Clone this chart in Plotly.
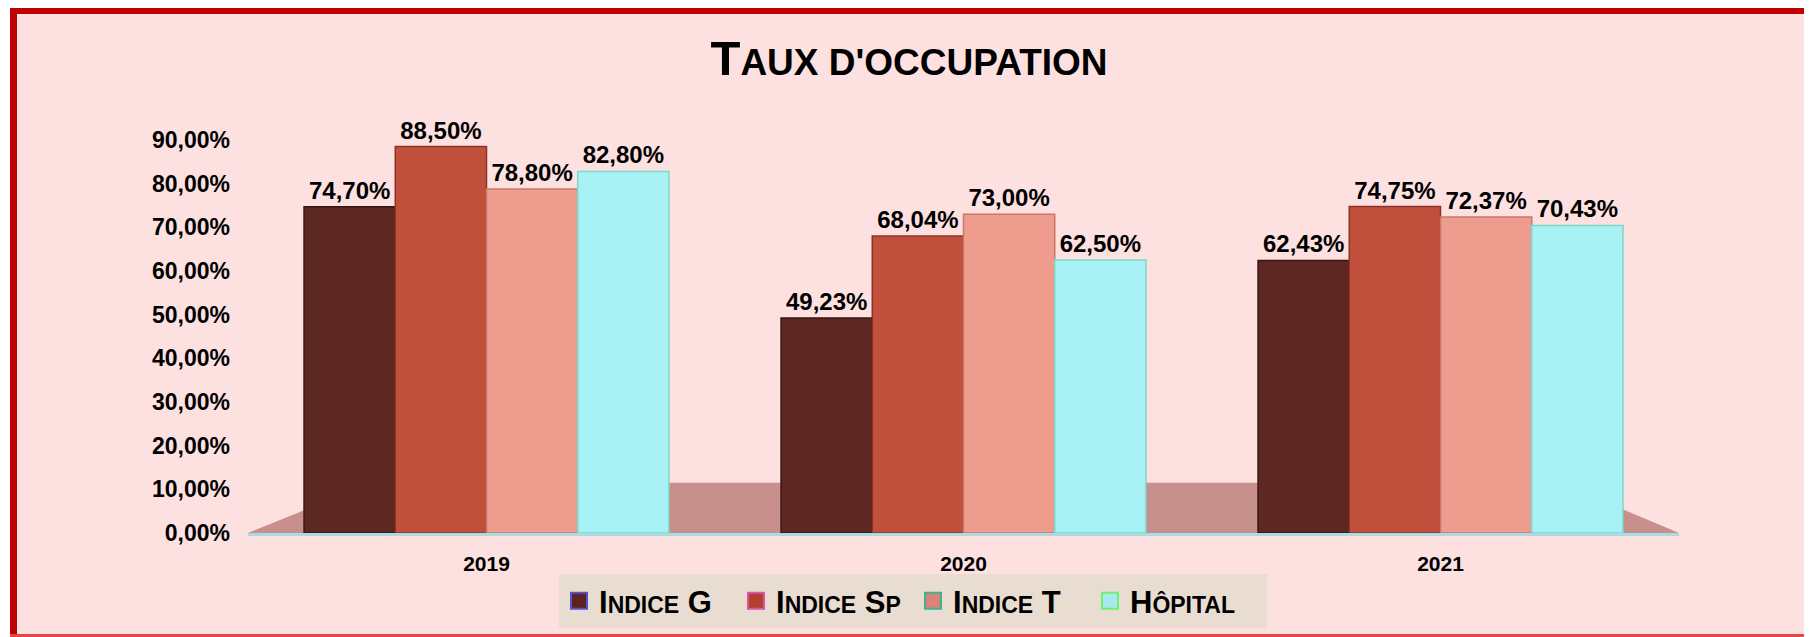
import plotly.graph_objects as go

years = ["2019", "2020", "2021"]
series_names = ["Indice G", "Indice Sp", "Indice T", "Hôpital"]
legend_labels = [
    "I<span style='font-size:23px'>NDICE</span> G",
    "I<span style='font-size:23px'>NDICE</span> S<span style='font-size:23px'>P</span>",
    "I<span style='font-size:23px'>NDICE</span> T",
    "H<span style='font-size:23px'>ÔPITAL</span>",
]
indice_g = [0.7470, 0.4923, 0.6243]
indice_sp = [0.8850, 0.6804, 0.7475]
indice_t = [0.7880, 0.7300, 0.7237]
hopital = [0.8280, 0.6250, 0.7043]
y_ticks = [0.0, 0.1, 0.2, 0.3, 0.4, 0.5, 0.6, 0.7, 0.8, 0.9]

fills = ["#5E2822", "#C0503C", "#EE9C8E", "#A8F2F6"]
edges = ["#3A1412", "#8E3226", "#C8786C", "#7CD8C8"]
legend_fills = ["#5A2420", "#B0402F", "#D98476", "#A8E8F0"]
legend_edges = ["#5B4FC8", "#E050A8", "#40B090", "#70F070"]

FONT = "Liberation Sans, Arial, sans-serif"

# page is drawn with the browser's 8px body margin, so the figure is 8px smaller
W, H = 1804, 629
ML, MR, MT, MB = 240, 133, 132, 104
PW, PH = W - ML - MR, H - MT - MB


def py(yfig):
    """figure pixel row -> paper y"""
    return (PH + MT - yfig) / PH


def px(xfig):
    return (xfig - ML) / PW


fig = go.Figure()
all_vals = [indice_g, indice_sp, indice_t, hopital]
for i, vals in enumerate(all_vals):
    fig.add_trace(go.Bar(
        x=years, y=vals, name=series_names[i], showlegend=False,
        marker=dict(color=fills[i], line=dict(color=edges[i], width=1.5)),
        texttemplate="%{y:.2%}", textposition="outside",
        textfont=dict(family=FONT, size=24, color="black", weight="bold"),
        cliponaxis=False,
    ))
for i in range(4):
    fig.add_trace(go.Scatter(
        x=[None], y=[None], mode="markers", name=legend_labels[i],
        marker=dict(symbol="square", size=16, color=legend_fills[i],
                    line=dict(color=legend_edges[i], width=2)),
    ))

RED = "#C00000"
shapes = [
    # outer frame background
    dict(type="rect", xref="paper", yref="paper",
         x0=px(2), x1=px(1804), y0=py(629), y1=py(0),
         fillcolor="#FDE0E0", line=dict(width=0), layer="below"),
    # frame sides
    dict(type="line", xref="paper", yref="paper", x0=px(5.5), x1=px(5.5),
         y0=py(629), y1=py(0), line=dict(color=RED, width=7), layer="below"),
    dict(type="line", xref="paper", yref="paper", x0=px(2), x1=px(1804),
         y0=py(3), y1=py(3), line=dict(color=RED, width=6), layer="below"),
    dict(type="line", xref="paper", yref="paper", x0=px(1802), x1=px(1802),
         y0=py(629), y1=py(0), line=dict(color=RED, width=4), layer="below"),
    dict(type="line", xref="paper", yref="paper", x0=px(2), x1=px(1804),
         y0=py(627.5), y1=py(627.5), line=dict(color="#E04848", width=3), layer="below"),
    # 3D floor
    dict(type="path", xref="x", yref="y",
         path="M -0.5,0 L 2.5,0 L 2.25,0.115 L -0.24,0.115 Z",
         fillcolor="#C8908C", line=dict(width=0), layer="below"),
]

fig.update_layout(
    width=W, height=H,
    margin=dict(l=ML, r=MR, t=MT, b=MB, autoexpand=False),
    paper_bgcolor="white", plot_bgcolor="rgba(0,0,0,0)",
    separators=", ",
    barmode="group", bargap=0.235, bargroupgap=0,
    shapes=shapes,
    title=dict(
        text="<b>T<span style='font-size:37px'>AUX D'OCCUPATION</span></b>",
        x=901 / W, xanchor="center", y=1 - 50 / H, yanchor="middle",
        font=dict(family=FONT, size=49, color="black"),
    ),
    xaxis=dict(
        type="category", range=[-0.5, 2.5], showgrid=False,
        showline=True, linecolor="#A8DCE2", linewidth=3,
        ticks="", ticklabelstandoff=10,
        tickfont=dict(family=FONT, size=21, color="black", weight="bold"),
    ),
    yaxis=dict(
        range=[0, 0.9], tickvals=y_ticks, tickformat=".2%",
        showgrid=False, zeroline=False, showline=False, ticks="",
        ticklabelstandoff=17,
        tickfont=dict(family=FONT, size=23, color="black", weight="bold"),
    ),
    legend=dict(
        orientation="h", x=px(905), xanchor="center",
        y=py(566), yanchor="top",
        bgcolor="#E9DDD1", borderwidth=0,
        font=dict(family=FONT, size=31, color="black", weight="bold"),
        itemsizing="trace", tracegroupgap=0, entrywidth=132,
    ),
)

fig.write_html("out.html")
